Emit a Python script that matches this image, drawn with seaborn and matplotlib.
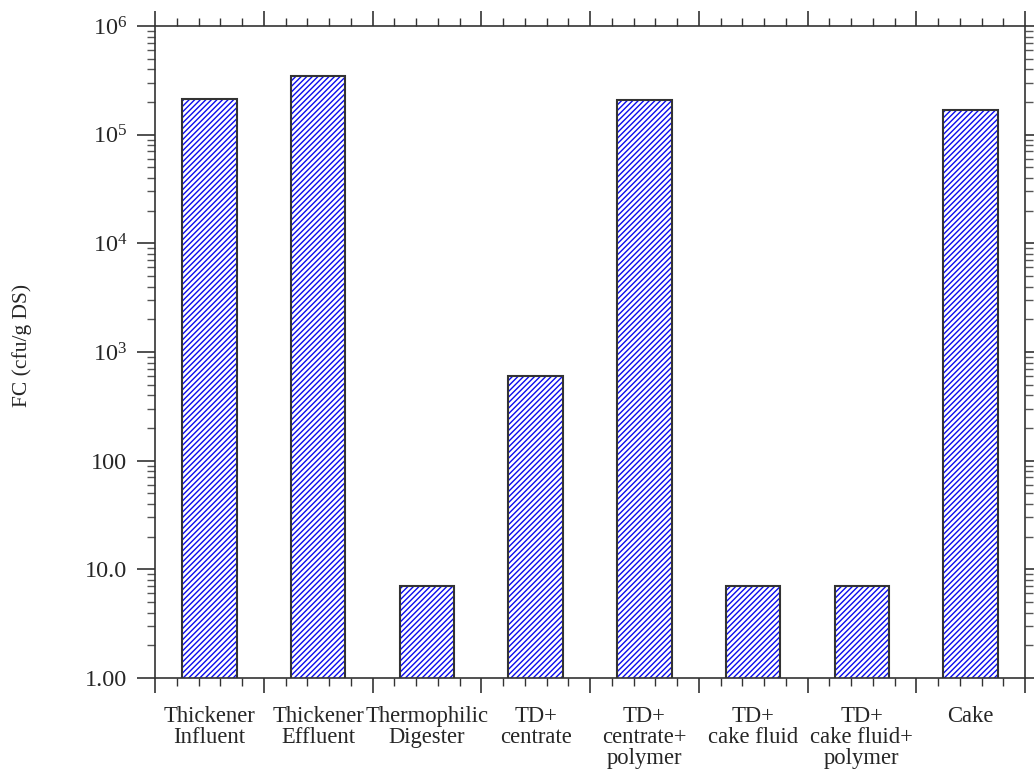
import numpy as np
import pandas as pd
import matplotlib
matplotlib.use("Agg")
import matplotlib.pyplot as plt
import matplotlib.ticker as mticker
import seaborn as sns

# Faecal coliform counts per treatment stage
stages = [
    "Thickener\nInfluent",
    "Thickener\nEffluent",
    "Thermophilic\nDigester",
    "TD+\ncentrate",
    "TD+\ncentrate+\npolymer",
    "TD+\ncake fluid",
    "TD+\ncake fluid+\npolymer",
    "Cake",
]
fc_counts = [2.13e5, 3.47e5, 7.0, 600.0, 2.08e5, 7.0, 7.0, 1.70e5]

y_tick_values = [1, 10, 100, 1e3, 1e4, 1e5, 1e6]
y_tick_labels = ["1.00", "10.0", "100",
                 r"$\mathregular{10^{3}}$", r"$\mathregular{10^{4}}$",
                 r"$\mathregular{10^{5}}$", r"$\mathregular{10^{6}}$"]
y_label = "FC (cfu/g DS)"

sns.set_style("ticks")
plt.rcParams["font.family"] = ["Liberation Serif", "DejaVu Serif"]
plt.rcParams["mathtext.fontset"] = "custom"
plt.rcParams["mathtext.rm"] = "Liberation Serif"
plt.rcParams["hatch.linewidth"] = 1.0

axis_color = "#333333"

df = pd.DataFrame({"stage": stages, "fc": fc_counts})

fig = plt.figure(figsize=(10.34, 7.69), dpi=100)
W, H = 1034, 769
ax = fig.add_axes([155 / W, 1 - 678 / H, 870 / W, 652 / H])
ax.set_yscale("log")

# hatched fill (hatch colour follows the edge colour)
sns.barplot(data=df, x="stage", y="fc", ax=ax, color="white", saturation=1,
            edgecolor="#0a0aee", hatch="//////", linewidth=0, width=0.5)
# dark outline on top of the hatched bars
sns.barplot(data=df, x="stage", y="fc", ax=ax, fill=False, saturation=1,
            edgecolor=axis_color, linewidth=1.5, width=0.5)

ax.set_ylim(1, 1e6)
ax.set_xlim(-0.5, len(stages) - 0.5)

# y axis: log ticks on both sides, pointing outwards
ax.yaxis.set_major_locator(mticker.FixedLocator(y_tick_values))
ax.yaxis.set_major_formatter(mticker.FixedFormatter(y_tick_labels))
ax.yaxis.set_minor_locator(mticker.LogLocator(base=10, subs=np.arange(2, 10)))
ax.yaxis.set_minor_formatter(mticker.NullFormatter())
ax.tick_params(axis="y", which="major", direction="out", length=13, width=1.2,
               left=True, right=True, labelsize=17.5, pad=7, color=axis_color)
ax.tick_params(axis="y", which="minor", direction="out", length=6, width=1.0,
               left=True, right=True, color="#555555")

# x axis: long ticks between categories, short ticks in between
n = len(stages)
boundaries = np.arange(n + 1) - 0.5
minor_x = [b + k * 0.2 for b in boundaries[:-1] for k in range(1, 5)]
ax.set_xticks(boundaries)
ax.set_xticklabels([])
ax.set_xticks(minor_x, minor=True)
ax.tick_params(axis="x", which="major", direction="out", length=11, width=1.2,
               top=True, bottom=True, color=axis_color)
ax.tick_params(axis="x", which="minor", direction="out", length=6, width=1.0,
               top=True, bottom=True, color=axis_color)
ax.set_xlabel("")

# category names centred under each bar
sec = ax.secondary_xaxis("bottom")
sec.set_xticks(np.arange(n))
sec.set_xticklabels(stages, fontsize=16.3, linespacing=0.98)
sec.tick_params(axis="x", length=0, pad=20.5)
sec.spines["bottom"].set_visible(False)

for side in ["left", "right", "top", "bottom"]:
    ax.spines[side].set_visible(True)
    ax.spines[side].set_color(axis_color)
    ax.spines[side].set_linewidth(1.2)

ax.set_ylabel(y_label, fontsize=15.5)
ax.yaxis.set_label_coords(-0.141, 0.51)

fig.savefig("out.png", dpi=100)
